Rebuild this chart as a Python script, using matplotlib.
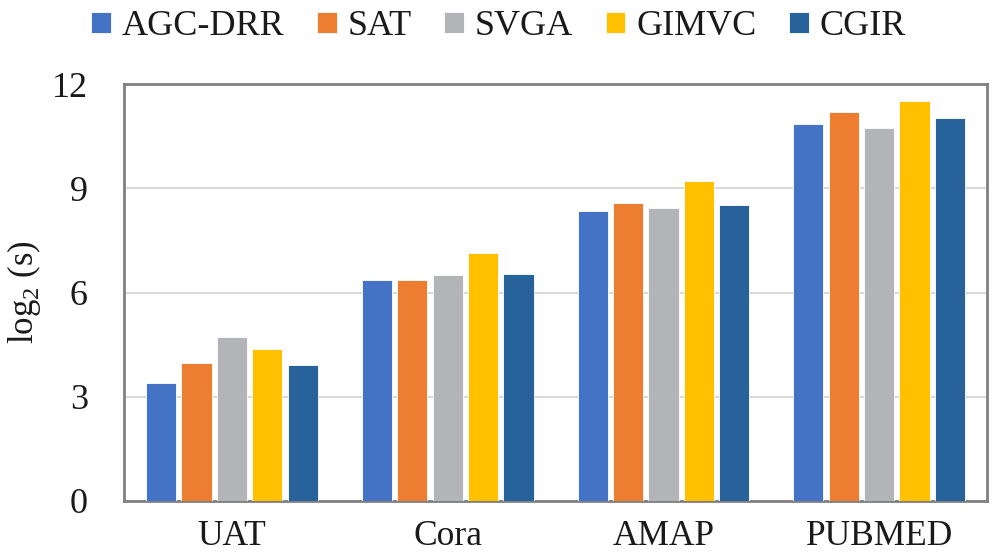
import matplotlib.pyplot as plt
import numpy as np

plt.rcParams['font.family'] = ['Liberation Serif', 'DejaVu Serif']
plt.rcParams['mathtext.fontset'] = 'custom'
plt.rcParams['mathtext.rm'] = 'Liberation Serif'

datasets = ['UAT', 'Cora', 'AMAP', 'PUBMED']
methods = ['AGC-DRR', 'SAT', 'SVGA', 'GIMVC', 'CGIR']
agc_drr = [3.40, 6.35, 8.34, 10.85]
sat = [3.96, 6.36, 8.57, 11.19]
svga = [4.73, 6.49, 8.42, 10.73]
gimvc = [4.37, 7.14, 9.20, 11.52]
cgir = [3.90, 6.52, 8.52, 11.01]
values = [agc_drr, sat, svga, gimvc, cgir]
colors = ['#4472C4', '#ED7D31', '#B3B4B8', '#FFC000', '#27629A']

fig = plt.figure(figsize=(9.97, 5.55), dpi=100)
ax = fig.add_axes([0.1244, 0.0973, 0.8656, 0.7513])

x = np.arange(len(datasets))
step = 0.164
for i, (name, vals) in enumerate(zip(methods, values)):
    ax.bar(x + (i - 2) * step, vals, width=0.14, color=colors[i],
           edgecolor='white', linewidth=0.6, label=name, zorder=3)

ax.set_xlim(-0.5, 3.5)
ax.set_ylim(0, 12)
ax.set_yticks([0, 3, 6, 9, 12])
ax.set_xticks(x)
ax.set_xticklabels(datasets)
ax.tick_params(axis='x', length=0, pad=14, labelsize=25.5, colors='#1a1a1a')
ax.tick_params(axis='y', length=0, pad=26, labelsize=26, colors='#1a1a1a')
ax.grid(axis='y', color='#d9d9d9', linewidth=1.5, zorder=0)
for s in ax.spines.values():
    s.set_color('#808080')
    s.set_linewidth(2)

ax.set_ylabel('log$_2$ (s)', fontsize=25, color='#1a1a1a')
ax.yaxis.set_label_coords(-0.094, 0.5)

fig.legend(loc='upper center', bbox_to_anchor=(0.5, 1.04), ncol=5, frameon=False,
           fontsize=26, handlelength=0.55, handleheight=0.55, handletextpad=0.3,
           columnspacing=0.9, labelcolor='#1a1a1a')

fig.savefig('out.png', dpi=100)
